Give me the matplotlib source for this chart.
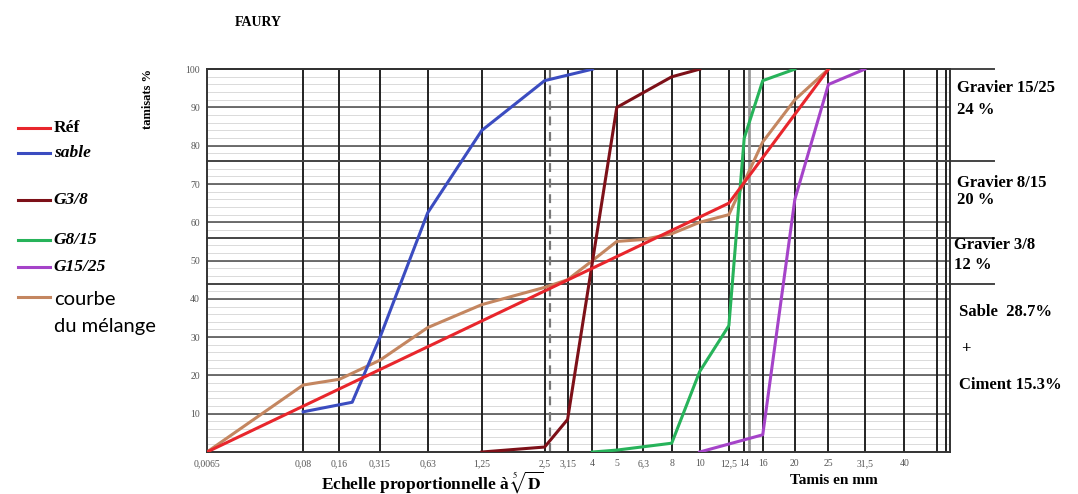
import numpy as np
import matplotlib
matplotlib.use("Agg")
import matplotlib.pyplot as plt

plt.rcParams.update({
    "font.family": "Liberation Serif",
    "mathtext.fontset": "stix",
})

# sieve sizes (mm) and passing (%)
ref_d = [0.0065, 12.5, 25]
ref_p = [0, 65, 100]

sable_d = [0.08, 0.2, 0.315, 0.63, 1.25, 2.5, 4]
sable_p = [10.5, 13, 30, 62.5, 84, 97, 100]

g38_d = [1.25, 2.5, 3.15, 5, 8, 10]
g38_p = [0, 1.3, 8.5, 90, 98, 100]

g815_d = [4, 5, 8, 10, 12.5, 14, 16, 20]
g815_p = [0, 0.5, 2.3, 21, 33, 82, 97, 100]

g1525_d = [10, 16, 20, 25, 31.5]
g1525_p = [0, 4.5, 66, 96, 100]

mel_d = [0.0065, 0.08, 0.16, 0.315, 0.63, 1.25, 2.5, 3.15, 4, 5, 6.3, 8, 10, 12.5, 16, 20, 25]
mel_p = [0, 17.5, 19, 24, 32.5, 38.5, 43, 45, 50, 55, 55.5, 57, 60, 62, 81, 92, 100]

tick_d = [0.0065, 0.08, 0.16, 0.315, 0.63, 1.25, 2.5, 3.15, 4, 5, 6.3, 8, 10, 12.5, 14, 16, 20, 25, 31.5, 40]
tick_lab = ["0,0065", "0,08", "0,16", "0,315", "0,63", "1,25", "2,5", "3,15", "4", "5", "6,3",
            "8", "10", "12,5", "14", "16", "20", "25", "31,5", "40"]
extra_d = [48.5, 51]

# cumulative limits of the components (%)
limits = [44, 56, 76, 100]

fig = plt.figure(figsize=(10.78, 4.94), dpi=100)
ax = fig.add_axes([0.192, 0.085, 0.689, 0.775])
ax.set_xscale("function", functions=(lambda x: np.power(np.abs(x), 0.2),
                                      lambda x: np.power(np.abs(x), 5.0)))
ax.set_xlim(0.0065, 52)
ax.set_ylim(0, 100)

# grid
for y in np.arange(2, 100, 2):
    ax.axhline(y, color="#d4d4d4", lw=0.6, zorder=0)
for y in range(10, 100, 10):
    ax.axhline(y, color="#555555", lw=1.2, zorder=1)
for d in tick_d[1:] + extra_d:
    ax.axvline(d, color="#222222", lw=1.4, zorder=1)
ax.axvline(2.65, color="#777777", lw=1.6, ls=(0, (4, 3)), zorder=1)
ax.axvline(14.5, color="#999999", lw=2.0, zorder=1)
for lim in limits:
    ax.axhline(lim, xmin=0, xmax=1.06, color="#444444", lw=1.4, clip_on=False, zorder=1)

ax.plot(mel_d, mel_p, color="#c48660", lw=2.2, zorder=3)
ax.plot(ref_d, ref_p, color="#e8262c", lw=2.2, zorder=4)
ax.plot(sable_d, sable_p, color="#3b4cc0", lw=2.2, zorder=3)
ax.plot(g38_d, g38_p, color="#7d1018", lw=2.2, zorder=3)
ax.plot(g815_d, g815_p, color="#27b35a", lw=2.2, zorder=3)
ax.plot(g1525_d, g1525_p, color="#a543c9", lw=2.2, zorder=3)

ax.set_xticks(tick_d)
ax.set_xticklabels(tick_lab)
ax.set_yticks(range(10, 101, 10))
ax.tick_params(axis="both", labelsize=7, colors="#555555", length=0, pad=5)
for s in ax.spines.values():
    s.set_color("#333333")
    s.set_linewidth(1.4)

fig.text(0.218, 0.955, "FAURY", fontsize=10, fontweight="bold", ha="left", va="center")
fig.text(0.137, 0.800, "tamisats %", fontsize=9, fontweight="bold", rotation=90, ha="center", va="center")
fig.text(0.298, 0.025, r"Echelle proportionnelle à $\sqrt[5]{\mathbf{D}}$", fontsize=12.5,
         fontweight="bold", ha="left", va="center")
fig.text(0.733, 0.027, "Tamis en mm", fontsize=11, fontweight="bold", ha="left", va="center")

# legend drawn by hand
leg = [("Réf", "#e8262c", 0.741, "normal"), ("sable", "#3b4cc0", 0.690, "italic"),
       ("G3/8", "#7d1018", 0.595, "italic"), ("G8/15", "#27b35a", 0.514, "italic"),
       ("G15/25", "#a543c9", 0.459, "italic")]
for name, col, y, st in leg:
    fig.add_artist(plt.Line2D([0.017, 0.046], [y, y], color=col, lw=2.2))
    fig.text(0.05, y, name, fontsize=12.5, fontweight="bold", fontstyle=st, ha="left", va="center")
fig.add_artist(plt.Line2D([0.017, 0.046], [0.398, 0.398], color="#c48660", lw=2.2))
fig.text(0.05, 0.393, "courbe", fontsize=14.5, family="Lato", ha="left", va="center")
fig.text(0.05, 0.340, "du mélange", fontsize=14.5, family="Lato", ha="left", va="center")

notes = [("Gravier 15/25", 0.888, 0.822), ("24 %", 0.888, 0.777),
         ("Gravier 8/15", 0.888, 0.630), ("20 %", 0.888, 0.595),
         ("Gravier 3/8", 0.885, 0.505), ("12 %", 0.885, 0.464),
         ("Sable  28.7%", 0.890, 0.368), ("+", 0.892, 0.294), ("Ciment 15.3%", 0.890, 0.220)]
for txt, x, y in notes:
    fig.text(x, y, txt, fontsize=12, fontweight="bold", ha="left", va="center")

fig.savefig("out.png", dpi=100)
